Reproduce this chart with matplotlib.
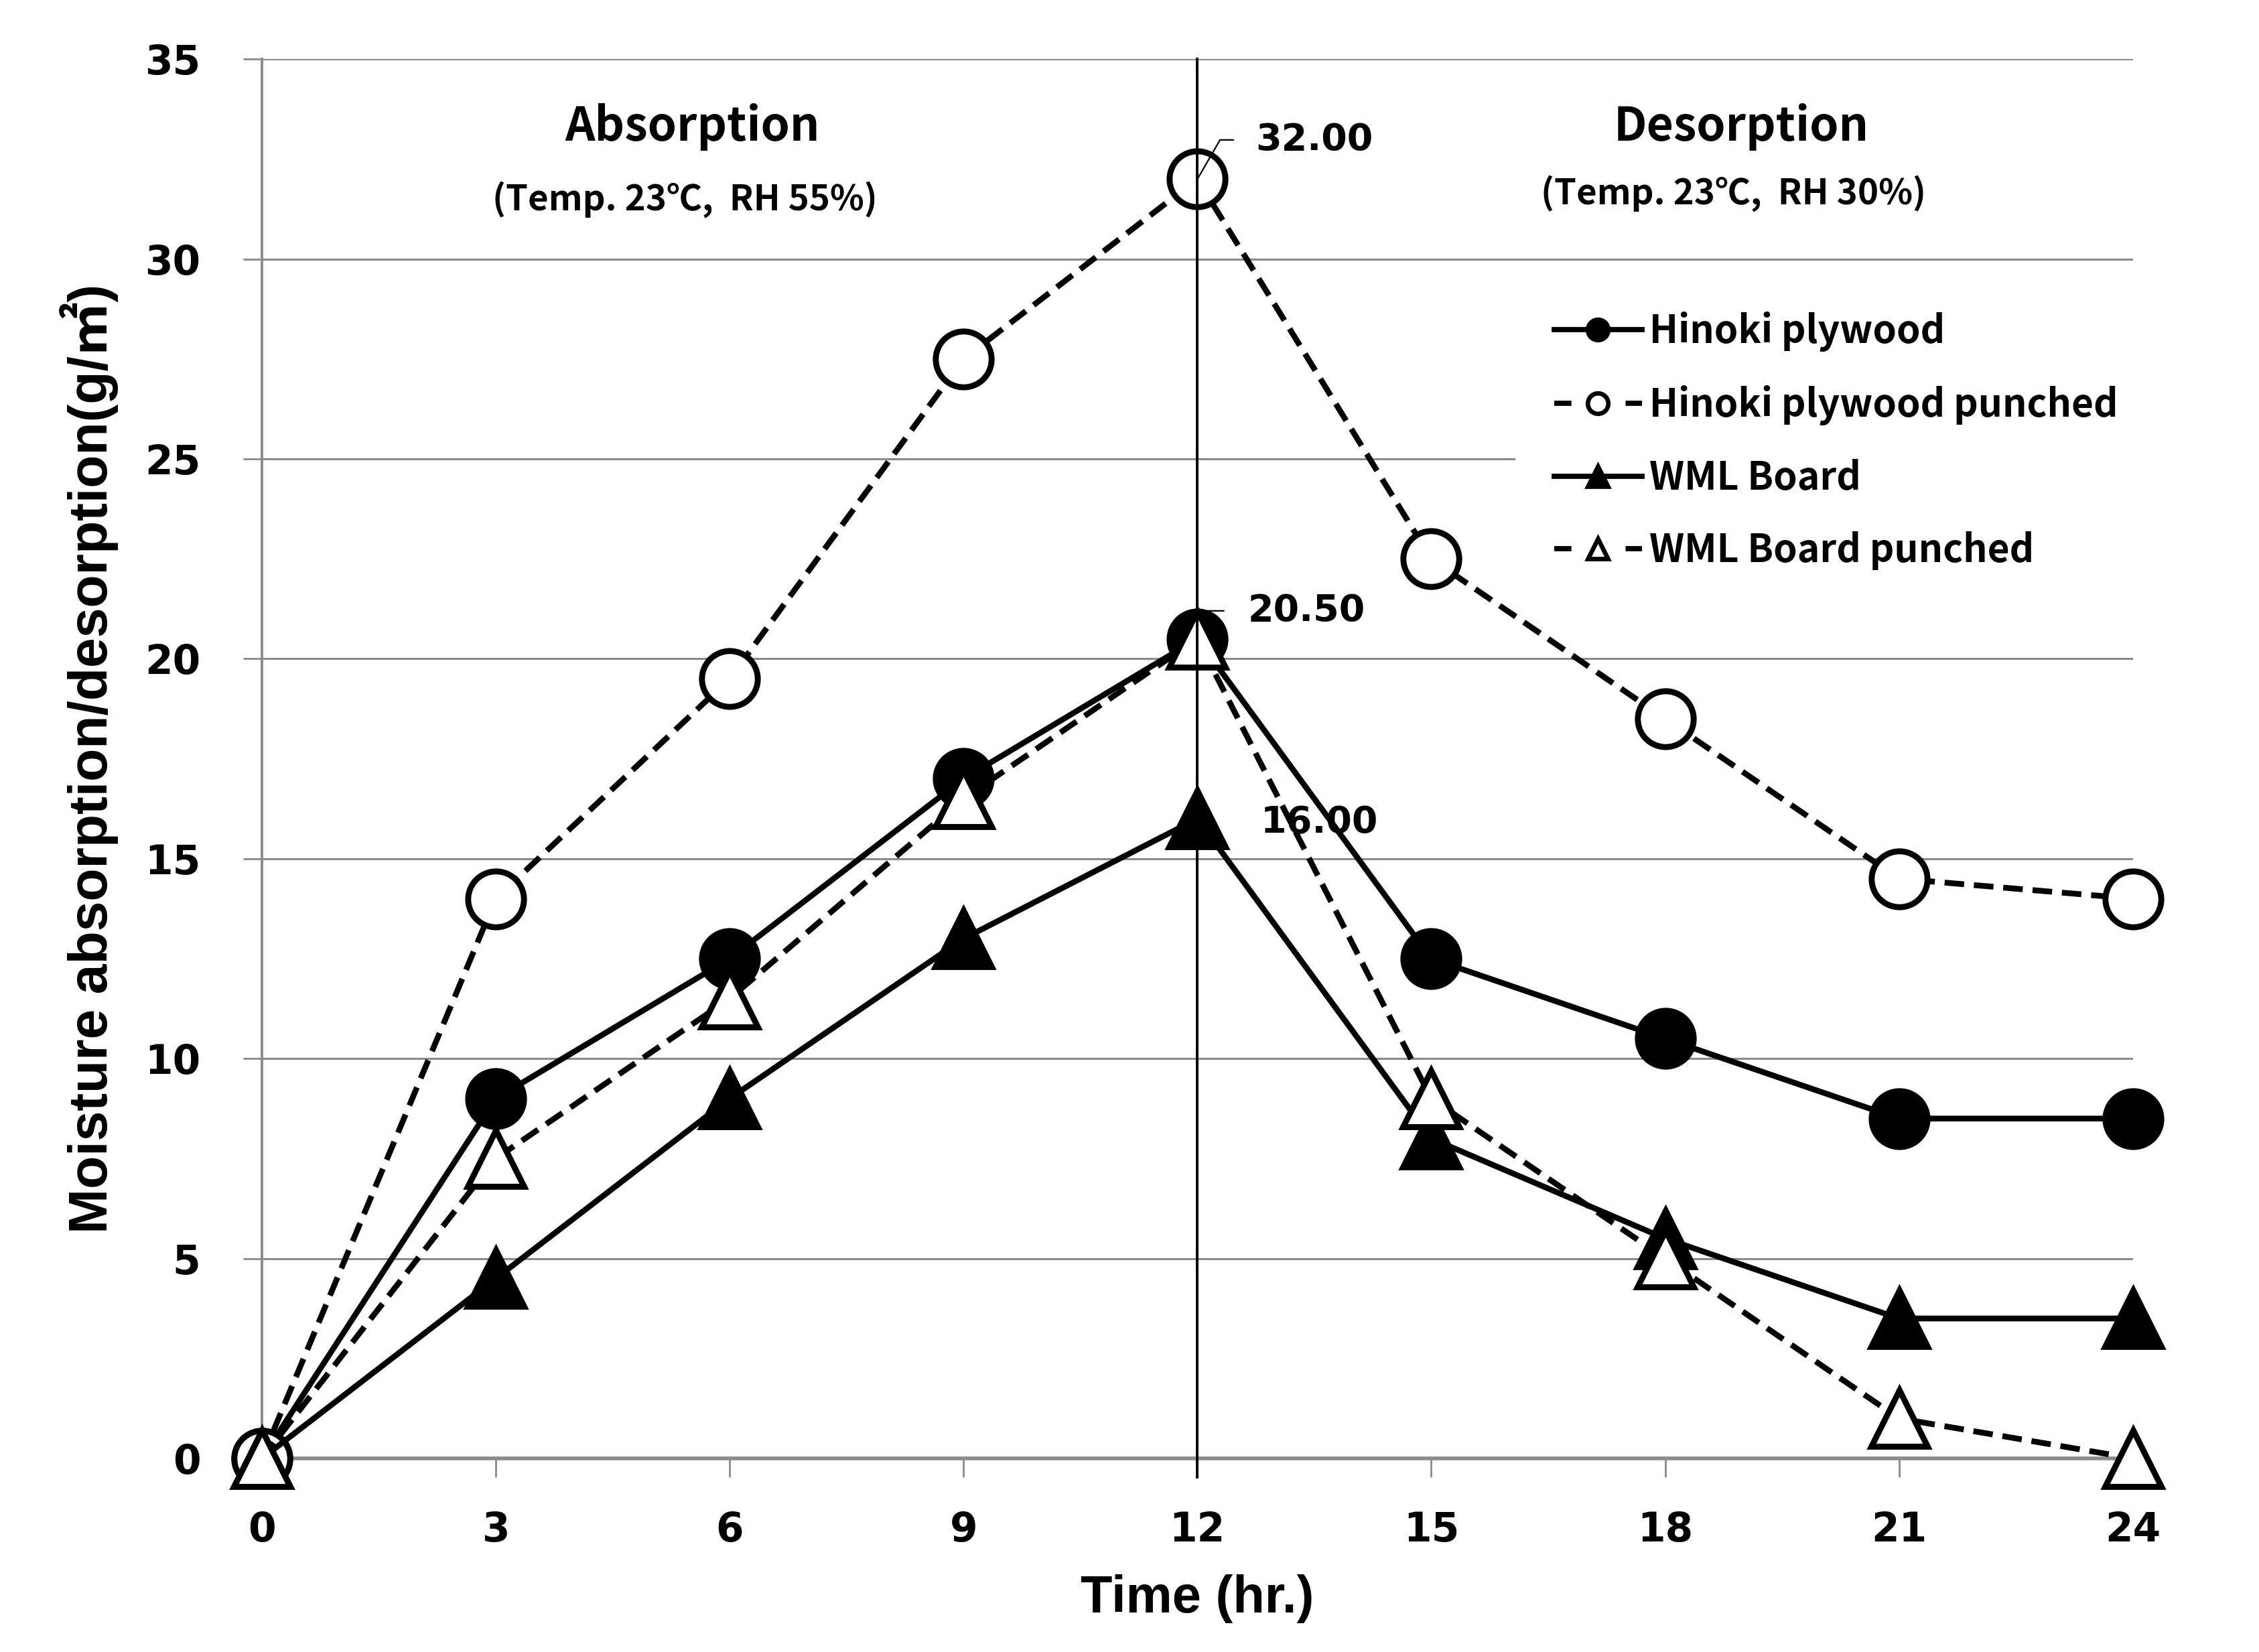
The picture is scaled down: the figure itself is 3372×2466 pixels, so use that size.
''' moisture absorption / desorption chart '''
import matplotlib.pyplot as plt

# data
time_hr = [0, 3, 6, 9, 12, 15, 18, 21, 24]
hinoki = [0, 9, 12.5, 17, 20.5, 12.5, 10.5, 8.5, 8.5]
hinoki_punched = [0, 14, 19.5, 27.5, 32, 22.5, 18.5, 14.5, 14]
wml = [0, 4.5, 9, 13, 16, 8, 5.5, 3.5, 3.5]
wml_punched = [0, 7.5, 11.5, 16.5, 20.5, 9, 5, 1, 0]
series_names = ['Hinoki plywood', 'Hinoki plywood punched', 'WML Board', 'WML Board punched']
y_ticks = [0, 5, 10, 15, 20, 25, 30, 35]
peak_values = [32.0, 20.5, 16.0]

label_font = 'Liberation Sans'
text_font = ['Noto Sans CJK KR', 'DejaVu Sans']
grid_gray = '#8a8a8a'

fig = plt.figure(figsize=(16.865, 12.33), dpi=200)
ax = fig.add_axes([0.1159, 0.1172, 0.828, 0.847])

dash = (0, (3.4, 1.7))
styles = [
    dict(marker='o', ls='-', mfc='black', ms=30),
    dict(marker='o', ls=dash, mfc='white', ms=30),
    dict(marker='^', ls='-', mfc='black', ms=30),
    dict(marker='^', ls=dash, mfc='white', ms=30),
]
for i, (vals, name, st) in enumerate(zip([hinoki, hinoki_punched, wml, wml_punched], series_names, styles)):
    ax.plot(time_hr, vals, color='black', lw=3.1, mec='black', mew=3.2,
            label=name, clip_on=False, zorder=3 + i, **st)

# boundary between absorption and desorption
ax.axvline(12, ymin=-0.0135, ymax=1, color='black', lw=1.4, clip_on=False, zorder=10)

# peak labels
ax.annotate('%.2f' % peak_values[0], xy=(12, peak_values[0]), xytext=(12.75, 32.98),
            ha='left', va='center', fontsize=20, fontweight='bold', family='DejaVu Sans',
            arrowprops=dict(arrowstyle='-', color='black', lw=0.8, shrinkA=10, shrinkB=0,
                            connectionstyle='angle,angleA=0,angleB=60', relpos=(0, 0.5)),
            zorder=11)
ax.annotate('%.2f' % peak_values[1], xy=(12, peak_values[1]), xytext=(12.65, 21.2),
            ha='left', va='center', fontsize=20, fontweight='bold', family='DejaVu Sans',
            arrowprops=dict(arrowstyle='-', color='black', lw=0.8, shrinkA=11, shrinkB=0,
                            connectionstyle='angle,angleA=0,angleB=70', relpos=(0, 0.5)),
            zorder=2.5)
ax.annotate('%.2f' % peak_values[2], xy=(12, peak_values[2]), xytext=(12.81, 15.9),
            ha='left', va='center', fontsize=20, fontweight='bold', family='DejaVu Sans',
            zorder=11)

# section headings
ax.text(5.52, 33.3, 'Absorption', ha='center', va='center', fontsize=25,
        fontweight='bold', family=text_font)
ax.text(5.43, 31.5, '(Temp. 23\u2103,  RH 55%)', ha='center', va='center', fontsize=19,
        fontweight='bold', family=text_font)
ax.text(18.98, 33.3, 'Desorption', ha='center', va='center', fontsize=25,
        fontweight='bold', family=text_font)
ax.text(18.88, 31.65, '(Temp. 23\u2103,  RH 30%)', ha='center', va='center', fontsize=19,
        fontweight='bold', family=text_font)

ax.set_xlim(0, 24)
ax.set_ylim(0, 35)
ax.set_xticks(time_hr)
ax.set_yticks(y_ticks)
ax.yaxis.grid(True, color=grid_gray, lw=1.1)
ax.set_axisbelow(True)
for s in ['top', 'right']:
    ax.spines[s].set_visible(False)
ax.spines['left'].set_color(grid_gray)
ax.spines['left'].set_linewidth(1.4)
ax.spines['bottom'].set_color(grid_gray)
ax.spines['bottom'].set_linewidth(2.0)
ax.tick_params(axis='x', length=10, width=1.0, color=grid_gray, pad=18)
ax.tick_params(axis='y', length=10, width=1.0, color=grid_gray, pad=23)
for lab in ax.get_xticklabels() + ax.get_yticklabels():
    lab.set_fontsize(21.5)
    lab.set_fontweight('bold')
    lab.set_family('DejaVu Sans')

ax.set_xlabel('Time (hr.)', fontsize=28, fontweight='bold', family=label_font, labelpad=13)
ax.set_ylabel('Moisture absorption/desorption(g/\u33a1)', fontsize=29, fontweight='bold',
              family=[label_font, 'Noto Sans CJK KR'], labelpad=14)

leg = ax.legend(loc='upper left', bbox_to_anchor=(0.66, 0.8605),
                prop=dict(family=text_font, weight='bold', size=20.5),
                handlelength=2.3, handletextpad=0.2, labelspacing=0.88,
                borderpad=1.0, frameon=True, facecolor='white', edgecolor='white',
                framealpha=1, fancybox=False)
leg.set_zorder(9)
for h in leg.legend_handles:
    h.set_markersize(11)
    h.set_markeredgewidth(2.4)
    h.set_linewidth(2.8)
# punched series: one short dash each side of the marker, as in the original
for h in leg.legend_handles[1::2]:
    h.set_linestyle((0, (3.3, 10.4)))

fig.savefig('out.png', dpi=200)
